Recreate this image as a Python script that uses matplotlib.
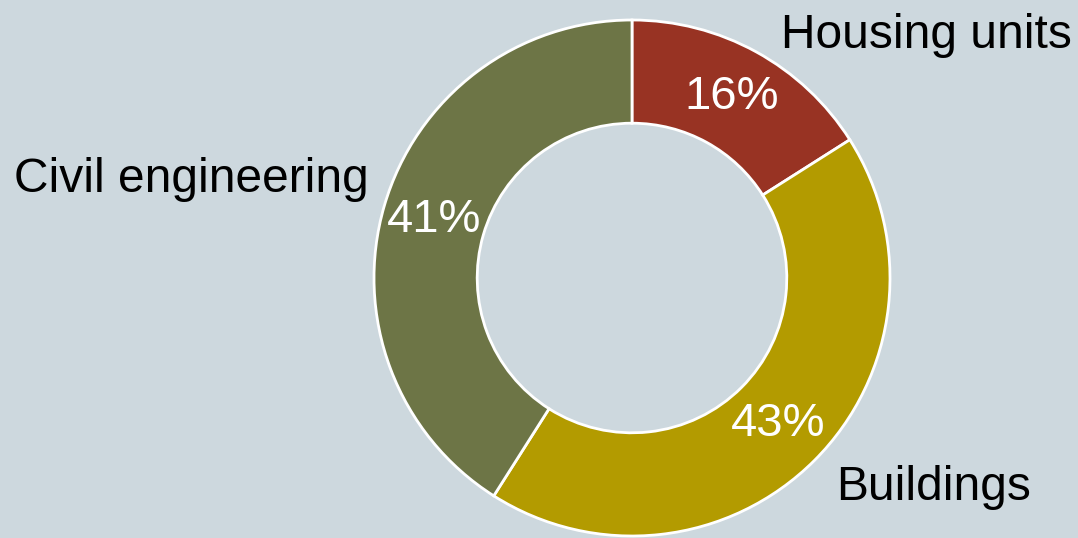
import matplotlib.pyplot as plt

categories = ['Housing units', 'Buildings', 'Civil engineering']
shares = [16, 43, 41]
colors = ['#983323', '#B39B00', '#6D7546']

plt.rcParams['font.family'] = ['Liberation Sans', 'DejaVu Sans']

W, H = 1078, 538
fig = plt.figure(figsize=(W / 100, H / 100), dpi=100)
bg = '#CDD8DE'
fig.patch.set_facecolor(bg)

cx, cy, r = 632, 278, 258
ax = fig.add_axes([(cx - r) / W, (H - cy - r) / H, 2 * r / W, 2 * r / H])
ax.set_facecolor(bg)

wedges, texts, autotexts = ax.pie(
    shares, colors=colors, startangle=90, counterclock=False,
    radius=1, pctdistance=0.8, autopct='%d%%',
    wedgeprops=dict(width=0.4, edgecolor='white', linewidth=2),
    textprops=dict(color='white', fontsize=34))
ax.set_xlim(-1, 1)
ax.set_ylim(-1, 1)
ax.set_aspect('equal')
ax.axis('off')

# category labels
label_pos = {
    'Housing units': (1072, 35, 'right'),
    'Buildings': (836, 487, 'left'),
    'Civil engineering': (14, 180, 'left'),
}
for name in categories:
    x, y, ha = label_pos[name]
    fig.text(x / W, 1 - y / H, name, ha=ha, va='center', fontsize=34.5, color='black')

fig.savefig('out.png', dpi=100, facecolor=bg)
